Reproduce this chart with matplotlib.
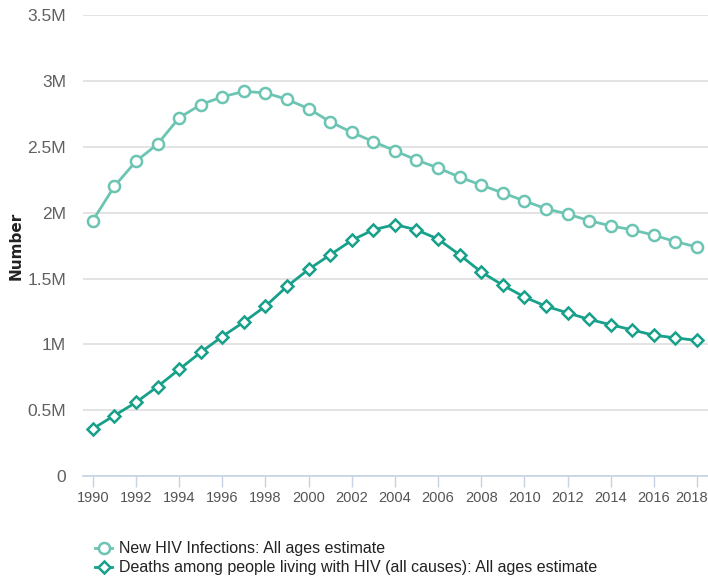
import matplotlib
matplotlib.use("Agg")
import matplotlib.pyplot as plt
import matplotlib.transforms as mtransforms
from matplotlib import font_manager

years = list(range(1990, 2019))
new_infections = [1.94, 2.20, 2.39, 2.52, 2.72, 2.82, 2.88, 2.92, 2.91, 2.86,
                  2.79, 2.69, 2.61, 2.54, 2.47, 2.40, 2.34, 2.27, 2.21, 2.15,
                  2.09, 2.03, 1.99, 1.94, 1.90, 1.87, 1.83, 1.78, 1.74]
deaths = [0.36, 0.46, 0.56, 0.68, 0.81, 0.94, 1.06, 1.17, 1.29, 1.44,
          1.57, 1.68, 1.79, 1.87, 1.91, 1.87, 1.80, 1.68, 1.55, 1.45,
          1.36, 1.29, 1.24, 1.19, 1.15, 1.11, 1.07, 1.05, 1.03]
y_ticks = [0, 0.5, 1, 1.5, 2, 2.5, 3, 3.5]
y_tick_labels = ["0", "0.5M", "1M", "1.5M", "2M", "2.5M", "3M", "3.5M"]
x_ticks = list(range(1990, 2019, 2))
label_inf = "New HIV Infections: All ages estimate"
label_dea = "Deaths among people living with HIV (all causes): All ages estimate"

names = {f.name for f in font_manager.fontManager.ttflist}
narrow = "Liberation Sans Narrow" if "Liberation Sans Narrow" in names else "Liberation Sans"

c_inf = "#6cc5b3"
c_dea = "#17a08a"

fig = plt.figure(figsize=(7.08, 5.8), dpi=100)
ax = fig.add_axes([0.117, 0.179, 0.883, 0.795])

ax.plot(years, new_infections, color=c_inf, lw=2.0, marker="o", ms=8,
        mfc="white", mec=c_inf, mew=1.8, label=label_inf, zorder=3)
ax.plot(years, deaths, color=c_dea, lw=2.0, marker="D", ms=6.5,
        mfc="white", mec=c_dea, mew=1.8, label=label_dea, zorder=3)

ax.set_xlim(1989.54, 2018.51)
ax.set_ylim(0, 3.5)
ax.set_yticks(y_ticks)
ax.set_yticklabels(y_tick_labels)
ax.set_xticks(x_ticks)
ax.set_xticklabels([str(x) for x in x_ticks])

for s in ["top", "right", "left"]:
    ax.spines[s].set_visible(False)
ax.spines["bottom"].set_color("#c5d3e3")
ax.spines["bottom"].set_linewidth(1.2)
ax.yaxis.grid(True, color="#e0e0e0", lw=1.3)
ax.set_axisbelow(True)
ax.tick_params(axis="y", length=0, pad=12, labelsize=12.5, labelcolor="#606060")
ax.tick_params(axis="x", length=8, width=1, color="#c5d3e3", pad=3,
               labelsize=10.5, labelcolor="#555555")
for lab in ax.get_xticklabels() + ax.get_yticklabels():
    lab.set_fontfamily(narrow)

# keep the last year label inside the figure
last = ax.get_xticklabels()[-1]
last.set_transform(last.get_transform() +
                   mtransforms.ScaledTranslation(-5 / 100, 0, fig.dpi_scale_trans))

ax.set_ylabel("Number", fontsize=11, fontweight="bold", color="#222222",
              fontfamily="DejaVu Sans")
ax.yaxis.set_label_coords(-0.095, 0.5)

leg = fig.legend(loc="upper left", bbox_to_anchor=(0.125, 0.078),
                 frameon=False, prop={"family": narrow, "size": 11.5},
                 handlelength=1.1, handletextpad=0.4, labelspacing=0.25,
                 borderaxespad=0)
for t in leg.get_texts():
    t.set_color("#222222")

fig.savefig("out.png", dpi=100)
